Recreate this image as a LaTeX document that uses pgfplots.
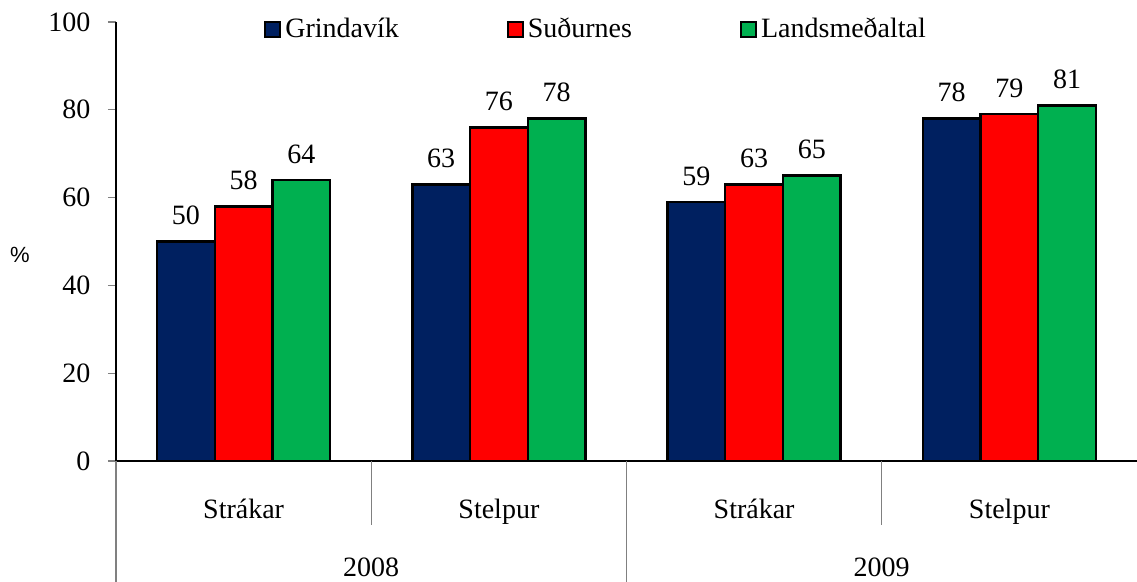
\documentclass[border=0pt]{standalone}
\usepackage{fontspec}
\setmainfont{Liberation Serif}
\newfontfamily\arialfont{Liberation Sans}
\usepackage{pgfplots}
\pgfplotsset{compat=1.18}
\definecolor{cblue}{RGB}{0,32,96}
\definecolor{cred}{RGB}{255,0,0}
\definecolor{cgreen}{RGB}{0,176,80}
\begin{document}
\begin{tikzpicture}
\fontsize{14}{16}\selectfont
\begin{axis}[
 scale only axis, width=510.5pt, height=219.5pt,
 xmin=-0.5, xmax=3.5, ymin=0, ymax=100,
 clip=false,
 axis x line*=bottom, axis y line*=left,
 axis line style={-, black, line width=0.6pt},
 xtick={0,1,2,3}, xticklabels={Strákar,Stelpur,Strákar,Stelpur},
 x tick style={draw=none},
 xticklabel style={yshift=-10pt},
 ytick={0,20,...,100},
 y tick style={gray, line width=0.6pt},
 tick align=outside, major tick length=4pt,
 /pgf/number format/assume math mode=true,
 tick label style={font=\fontsize{14}{16}\selectfont},
 yticklabel style={xshift=-4pt},
 ylabel={\%},
 ylabel style={rotate=-90, at={(axis description cs:0,0.47)}, anchor=center, xshift=-48pt, font=\arialfont\fontsize{11}{13}\selectfont},
 ybar, bar width=0.226,
 nodes near coords,
 every node near coord/.append style={font=\fontsize{14}{16}\selectfont, yshift=3pt, black},
 legend columns=3,
 legend style={draw=none, fill=none, at={(axis description cs:0.139,0.982)}, anchor=west,
   font=\fontsize{14}{16}\selectfont,
   /tikz/every even column/.append style={column sep=52pt}},
 legend image code/.code={\draw[#1, draw=black, line width=1pt] (0pt,-3.75pt) rectangle (7.5pt,3.75pt);},
]
\addplot[fill=cblue, draw=black, line width=1.2pt, bar shift=-0.226] coordinates {(0,50) (1,63) (2,59) (3,78)};
\addplot[fill=cred, draw=black, line width=1.2pt, bar shift=0] coordinates {(0,58) (1,76) (2,63) (3,79)};
\addplot[fill=cgreen, draw=black, line width=1.2pt, bar shift=0.226] coordinates {(0,64) (1,78) (2,65) (3,81)};
\legend{Grindavík, Suðurnes, Landsmeðaltal}
\draw[gray, line width=0.6pt] (axis cs:-0.5,0) -- ([yshift=-60.5pt]axis cs:-0.5,0);
\draw[gray, line width=0.6pt] (axis cs:1.5,0) -- ([yshift=-60.5pt]axis cs:1.5,0);
\draw[gray, line width=0.6pt] (axis cs:0.5,0) -- ([yshift=-32pt]axis cs:0.5,0);
\draw[gray, line width=0.6pt] (axis cs:2.5,0) -- ([yshift=-32pt]axis cs:2.5,0);
\node at ([yshift=-53pt]axis cs:0.5,0) {2008};
\node at ([yshift=-53pt]axis cs:2.5,0) {2009};
\end{axis}
\pgfresetboundingbox
\path (-58pt,-60.5pt) rectangle (510.5pt,230.5pt);
\end{tikzpicture}
\end{document}
